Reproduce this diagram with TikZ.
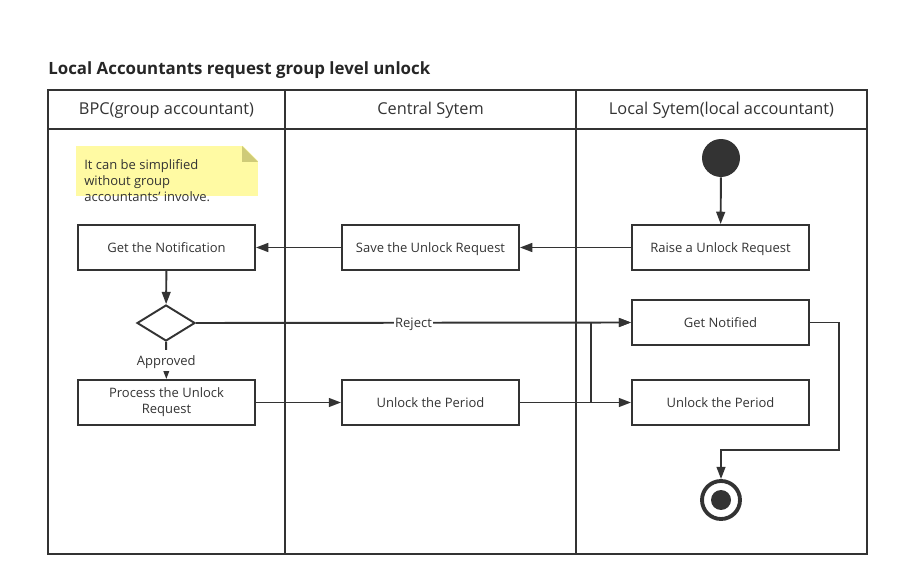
\documentclass[tikz,border=0pt]{standalone}
\usepackage{fontspec}
\setmainfont{Open Sans}
\usetikzlibrary{arrows.meta,positioning,calc,shapes.geometric}
\definecolor{ink}{HTML}{333333}
\definecolor{notefill}{HTML}{FFFAA3}
\definecolor{notefold}{HTML}{CFCB78}

\begin{document}
\begin{tikzpicture}[x=0.02cm,y=-0.02cm,
  every node/.style={text=ink,font=\fontsize{7.4}{9}\selectfont},
  act/.style={draw=ink,line width=1.1pt,minimum width=3.54cm,minimum height=0.9cm,inner sep=1pt,align=center},
  oneline/.style={text height=1.45ex,text depth=0.45ex},
  flow/.style={draw=ink,line width=1.1pt,-{Triangle[length=7pt,width=5pt]}},
  flowlabel/.style={fill=white,inner sep=0.8pt,oneline},
  lane/.style={font=\fontsize{9.3}{11}\selectfont}]
  \useasboundingbox (0,0) rectangle (899,587);
  \node[anchor=west,inner sep=0pt,text=black!85,font=\fontsize{9.6}{11}\selectfont\bfseries] (title) at (48,70) {Local Accountants request group level unlock};
  % swimlanes
  \draw[ink,line width=1.1pt] (48,90) rectangle (867,554);
  \draw[ink,line width=1.1pt] (48,129) -- (867,129);
  \draw[ink,line width=1.1pt] (285,90) -- (285,554) (576,90) -- (576,554);
  \node[lane] (bpc) at (166.5,110.5) {BPC(group accountant)};
  \node[lane] (central) at (430.5,110.5) {Central Sytem};
  \node[lane] (local) at (721.5,110.5) {Local Sytem(local accountant)};
  % note
  \node[fill=notefill,minimum width=3.64cm,minimum height=1cm,inner sep=0pt] (note) at (167,171) {};
  \fill[white] (242,145) -- (259,145) -- (259,162) -- cycle;
  \fill[notefold] (242,146) -- (258,162) -- (242,162) -- cycle;
  \node[anchor=north west,align=left,inner sep=0pt,font=\fontsize{7.4}{9.1}\selectfont] (notetext) at (84,159) {It can be simplified\\without group\\accountants' involve.};
  % activities
  \node[circle,fill=ink,minimum size=0.76cm,inner sep=0pt] (start) at (721,158) {};
  \node[act,oneline] (raise) at (720.5,247.5) {Raise a Unlock Request};
  \node[act,oneline] (save) at (430.5,247.5) {Save the Unlock Request};
  \node[act,oneline] (getnote) at (166.5,247.5) {Get the Notification};
  \node[diamond,draw=ink,line width=1.1pt,minimum width=1.16cm,minimum height=0.72cm,inner sep=0pt] (dec) at (166,323) {};
  \node[act] (process) at (166.5,402.5) {Process the Unlock\\Request};
  \node[act,oneline] (unlockc) at (430.5,402.5) {Unlock the Period};
  \node[act,oneline] (notified) at (720.5,322.5) {Get Notified};
  \node[act,oneline] (unlockl) at (720.5,402.5) {Unlock the Period};
  \node[circle,draw=ink,line width=2.2pt,minimum size=0.76cm,inner sep=0pt] (finish) at (721,500) {};
  \fill[ink] (finish) circle (0.2cm);
  \coordinate (split) at (591,402.5);
  \coordinate (bend) at (839,450);
  % flows
  \draw[flow] (start) -- (raise);
  \draw[flow] (raise) -- (save);
  \draw[flow] (save) -- (getnote);
  \draw[flow] (getnote) -- (dec);
  \draw[flow] (dec) -- node[flowlabel] {Approved} (process);
  \draw[flow] (dec.east) -- node[flowlabel] {Reject} (notified.west);
  \draw[flow] (process) -- (unlockc);
  \draw[flow] (unlockc) -- (unlockl);
  \draw[flow] (unlockc.east) -- (split) |- (notified.west);
  \draw[flow] (notified.east) -| (bend) -| (finish.north);
\end{tikzpicture}
\end{document}
